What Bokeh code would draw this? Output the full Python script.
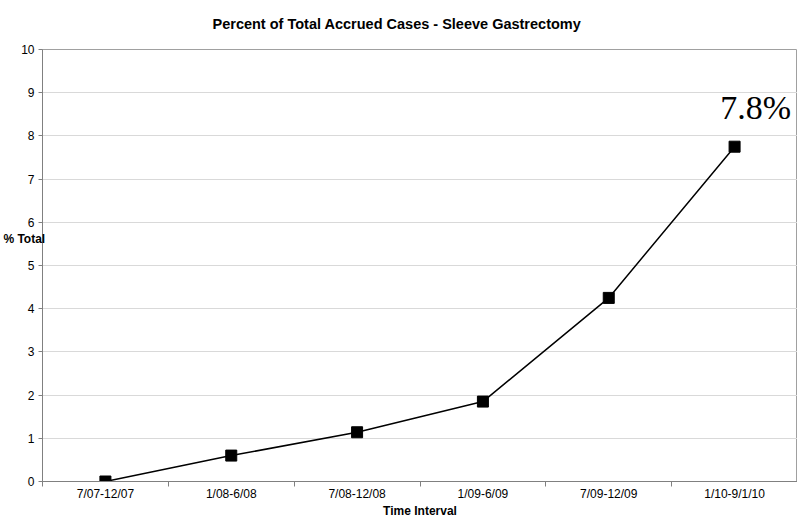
from bokeh.plotting import figure
from bokeh.models import (ColumnDataSource, Range1d, FactorRange, LinearAxis,
                          FixedTicker, SingleIntervalTicker, CustomJSTickFormatter)
from bokeh.embed import file_html
from bokeh.resources import INLINE
from bokeh.core.properties import value

# ---- data ----
categories = ["7/07-12/07", "1/08-6/08", "7/08-12/08", "1/09-6/09", "7/09-12/09", "1/10-9/1/10"]
pct_total = [0.0, 0.60, 1.14, 1.85, 4.25, 7.75]
title_text = "Percent of Total Accrued Cases - Sleeve Gastrectomy"
x_label = "Time Interval"
y_label = "% Total"

FONT = "Liberation Sans"

p = figure(width=797, height=520, output_backend="svg", toolbar_location=None,
           x_range=FactorRange(*categories, range_padding=0), y_range=Range1d(0, 10),
           min_border_left=40, min_border_right=0, min_border_top=46, min_border_bottom=0,
           x_axis_location=None, y_axis_location=None)
p.background_fill_color = "white"
p.border_fill_color = "white"
p.outline_line_color = "#a0a0a0"
p.outline_line_width = 1

# title
p.title.text = title_text
p.title.align = "left"
p.title.offset = 170
p.title.vertical_align = "top"
p.title.text_font = FONT
p.title.text_font_size = "14.5px"
p.title.text_font_style = "bold"
p.title.text_color = "black"
p.title.standoff = 31

# y axis with horizontal label overlapping the tick-label column
yax = LinearAxis(ticker=SingleIntervalTicker(interval=1))
yax.axis_line_color = "#808080"
yax.major_tick_line_color = "#808080"
yax.major_tick_out = 4
yax.major_tick_in = 0
yax.minor_tick_line_color = None
yax.major_label_text_font = FONT
yax.major_label_text_font_size = "12px"
yax.major_label_text_color = "black"
yax.major_label_standoff = 4
yax.axis_label = y_label + "\n\n\n\n"
yax.axis_label_orientation = "horizontal"
yax.axis_label_standoff = -27
yax.axis_label_text_font = FONT
yax.axis_label_text_font_size = "12px"
yax.axis_label_text_font_style = "bold"
yax.axis_label_text_line_height = 0.95
yax.axis_label_text_color = "black"
p.add_layout(yax, "left")

# x axis: labels at category centres, tick marks at category boundaries
n = len(categories)
xax = LinearAxis(
    ticker=FixedTicker(ticks=[i + 0.5 for i in range(n)], minor_ticks=list(range(n + 1))),
    formatter=CustomJSTickFormatter(args=dict(cats=categories),
                                    code="const c = cats[Math.floor(tick)]; return c === undefined ? '' : c;"))
xax.axis_line_color = "#808080"
xax.major_tick_line_color = None
xax.major_tick_out = 0
xax.major_tick_in = 0
xax.minor_tick_line_color = "#808080"
xax.minor_tick_out = 5
xax.minor_tick_in = 0
xax.major_label_text_font = FONT
xax.major_label_text_font_size = "12px"
xax.major_label_text_color = "black"
xax.major_label_standoff = 0
xax.axis_label = x_label
xax.axis_label_text_font = FONT
xax.axis_label_text_font_size = "12px"
xax.axis_label_text_font_style = "bold"
xax.axis_label_text_color = "black"
xax.axis_label_standoff = 0
p.add_layout(xax, "below")

# grid
p.ygrid.ticker = SingleIntervalTicker(interval=1)
p.ygrid.grid_line_color = "#d9d9d9"
p.xgrid.grid_line_color = None

src = ColumnDataSource(dict(x=categories, y=pct_total))
p.line("x", "y", source=src, line_color="black", line_width=1.5)
p.scatter("x", "y", source=src, marker="square", size=11, fill_color="black", line_color="black")

# final value annotation
lab_src = ColumnDataSource(dict(x=[categories[-1]], y=[pct_total[-1]],
                                t=[f"{pct_total[-1]:.1f}%"]))
p.text("x", "y", text="t", source=lab_src, x_offset=21, y_offset=-39,
       text_align="center", text_baseline="middle",
       text_font=value("Liberation Serif"), text_font_size="34px", text_color="black")

open("out.html", "w").write(file_html(p, INLINE))
